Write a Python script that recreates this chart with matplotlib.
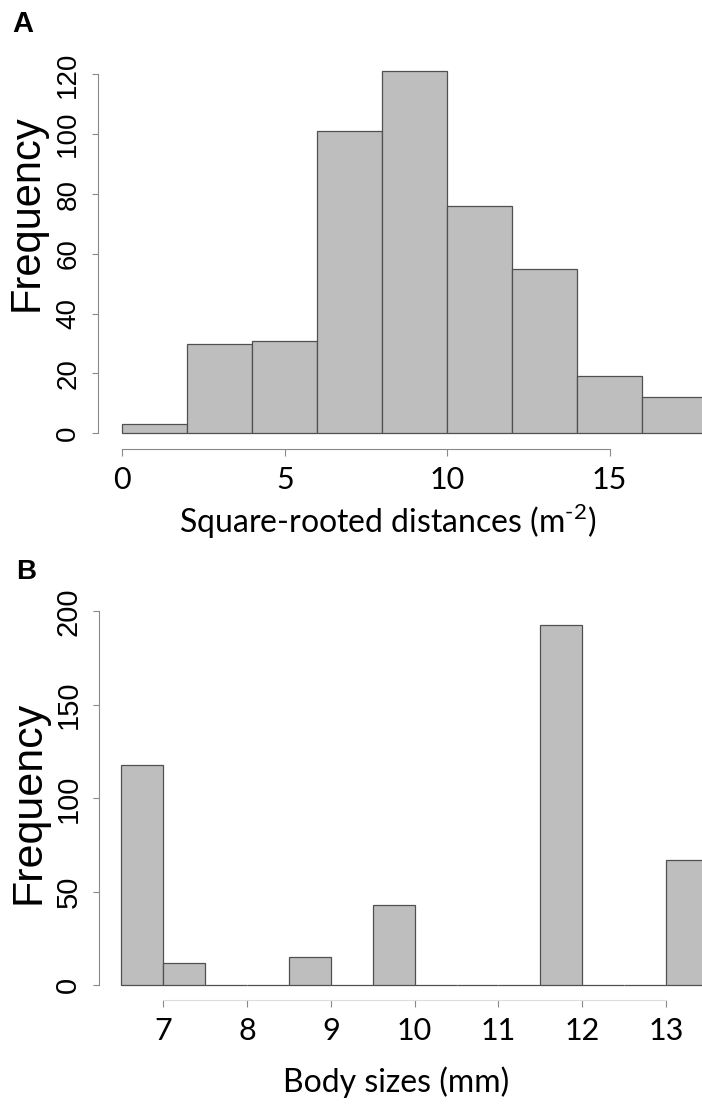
import numpy as np
import matplotlib.pyplot as plt

# histogram A: square-rooted distances, bins of width 2
dist_edges = [0, 2, 4, 6, 8, 10, 12, 14, 16, 18]
dist_counts = [3, 30, 31, 101, 121, 76, 55, 19, 12]
dist_xticks = [0, 5, 10, 15]
dist_yticks = [0, 20, 40, 60, 80, 100, 120]

# histogram B: body sizes, bins of width 0.5
size_edges = [6.5, 7, 7.5, 8, 8.5, 9, 9.5, 10, 10.5, 11, 11.5, 12, 12.5, 13, 13.5]
size_counts = [118, 12, 0, 0, 15, 0, 43, 0, 0, 0, 193, 0, 0, 67]
size_xticks = [7, 8, 9, 10, 11, 12, 13]
size_yticks = [0, 50, 100, 150, 200]

W, H = 702, 1106
fig = plt.figure(figsize=(W / 100, H / 100), dpi=100)
plt.rcParams['mathtext.fontset'] = 'custom'
plt.rcParams['mathtext.rm'] = 'Lato'


def px(x, y):
    return x / W, 1 - y / H


def hist_panel(rect, edges, counts, xlim, ylim, xticks, yticks, yfs, xspine_col):
    ax = fig.add_axes(rect)
    edges = np.array(edges, dtype=float)
    ax.bar(edges[:-1], counts, width=np.diff(edges), align='edge',
           color='#bebebe', edgecolor='#505050', linewidth=0.9)
    ax.set_xlim(*xlim)
    ax.set_ylim(*ylim)
    for s in ['top', 'right']:
        ax.spines[s].set_visible(False)
    ax.spines['left'].set_bounds(yticks[0], yticks[-1])
    ax.spines['bottom'].set_bounds(xticks[0], xticks[-1])
    ax.spines['left'].set_color('#8a8a8a')
    ax.spines['bottom'].set_color(xspine_col)
    ax.set_xticks(xticks)
    ax.set_yticks(yticks)
    ax.tick_params(axis='y', length=4, color='#8a8a8a', labelrotation=90,
                   pad=8, labelsize=yfs)
    ax.tick_params(axis='x', length=5, color='#8a8a8a', pad=7, labelsize=22)
    for lbl in ax.get_yticklabels():
        lbl.set_va('center')
        lbl.set_family('Liberation Sans')
    for lbl in ax.get_xticklabels():
        lbl.set_family('Lato')
    ax.patch.set_visible(False)
    return ax


l, b = px(98, 449)
hist_panel([l, b, 1 - l, (449 - 60) / H], dist_edges, dist_counts,
           (-0.75, 17.84), (-5.25, 124.8), dist_xticks, dist_yticks, 20, '#8a8a8a')

l, b = px(99, 1000)
hist_panel([l, b, 1 - l, (1000 - 590) / H], size_edges, size_counts,
           (6.233, 13.43), (-7.9, 211.5), size_xticks, size_yticks, 21, '#dddddd')

# panel letters and axis titles
fig.text(*px(12, 24), 'A', fontsize=21, fontweight='bold', family='Liberation Sans',
         ha='left', va='center')
fig.text(*px(16, 572), 'B', fontsize=20, fontweight='bold', family='Liberation Sans',
         ha='left', va='center')
fig.text(*px(27, 213), 'Frequency', fontsize=30, family='Liberation Sans',
         rotation=90, ha='center', va='center')
fig.text(*px(29, 802), 'Frequency', fontsize=31, family='Liberation Sans',
         rotation=90, ha='center', va='center')
fig.text(*px(388, 521), r'Square-rooted distances (m$^{\text{-2}}$)',
         fontsize=23, family='Lato', ha='center', va='center')
fig.text(*px(396, 1082), 'Body sizes (mm)', fontsize=23, family='Lato',
         ha='center', va='center')

fig.savefig('out.png', dpi=100)
